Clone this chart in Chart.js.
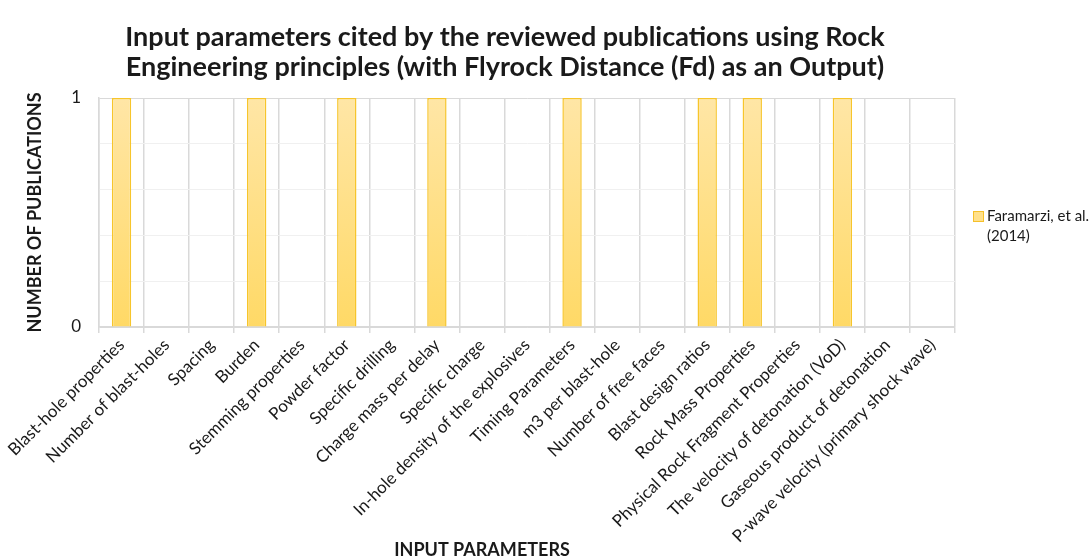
<!DOCTYPE html>
<html>
<head>
<meta charset="utf-8">
<script src="https://cdn.jsdelivr.net/npm/chart.js@4.4.1/dist/chart.umd.min.js"></script>
<style>
  html, body { margin: 0; padding: 0; background: #ffffff; }
  #wrap { width: 1092px; height: 560px; position: relative; }
</style>
</head>
<body>
<div id="wrap"><canvas id="c" width="1092" height="560"></canvas></div>
<script>
const titleLines = [
  "Input parameters cited by the reviewed publications using Rock",
  "Engineering principles (with Flyrock Distance (Fd) as an Output)"
];
const categories = [
  "Blast-hole properties",
  "Number of blast-holes",
  "Spacing",
  "Burden",
  "Stemming properties",
  "Powder factor",
  "Specific drilling",
  "Charge mass per delay",
  "Specific charge",
  "In-hole density of the explosives",
  "Timing Parameters",
  "m3 per blast-hole",
  "Number of free faces",
  "Blast design ratios",
  "Rock Mass Properties",
  "Physical Rock Fragment Properties",
  "The velocity of detonation (VoD)",
  "Gaseous product of detonation",
  "P-wave velocity (primary shock wave)"
];
const seriesLabel = ["Faramarzi, et al.", "(2014)"];
const seriesValues = [1, 0, 0, 1, 0, 1, 0, 1, 0, 0, 1, 0, 0, 1, 1, 0, 1, 0, 0];
const yTickLabels = [0, 1];
const yAxisTitle = "NUMBER OF PUBLICATIONS";
const xAxisTitle = "INPUT PARAMETERS";

const FONT = "Lato, 'Open Sans', sans-serif";
const textColor = "#1a1a1a";

function barGradient(ctx) {
  const chart = ctx.chart;
  const area = chart.chartArea;
  if (!area) return "#FFE08A";
  const g = chart.ctx.createLinearGradient(0, area.top, 0, area.bottom);
  g.addColorStop(0, "#FFE6A6");
  g.addColorStop(1, "#FFD966");
  return g;
}

const customDraw = {
  id: "customDraw",
  afterDraw(chart) {
    const ctx = chart.ctx;
    ctx.save();
    // Title
    ctx.fillStyle = textColor;
    ctx.textAlign = "center";
    ctx.textBaseline = "middle";
    ctx.font = "bold 27px " + FONT;
    ctx.fillText(titleLines[0], 505, 37);
    ctx.fillText(titleLines[1], 505, 67);
    // X axis title
    ctx.font = "bold 18px " + FONT;
    ctx.fillText(xAxisTitle, 482, 550);
    // Legend
    const ds = chart.data.datasets[0];
    ctx.fillStyle = "#FFE08A";
    ctx.fillRect(973, 211, 10, 10);
    ctx.strokeStyle = "#F5C02A";
    ctx.lineWidth = 1;
    ctx.strokeRect(973.5, 211.5, 10, 10);
    ctx.fillStyle = textColor;
    ctx.textAlign = "left";
    ctx.font = "15px " + FONT;
    const lines = Array.isArray(ds.label) ? ds.label : [ds.label];
    lines.forEach((t, i) => ctx.fillText(t, 987, 216 + i * 20));
    ctx.restore();
  }
};

new Chart(document.getElementById("c"), {
  type: "bar",
  data: {
    labels: categories,
    datasets: [{
      label: seriesLabel,
      data: seriesValues,
      backgroundColor: barGradient,
      borderColor: "#F7C52B",
      borderWidth: 1.5,
      categoryPercentage: 1.0,
      barPercentage: 0.43
    }]
  },
  options: {
    responsive: false,
    animation: false,
    devicePixelRatio: 1,
    layout: { padding: { top: 98, right: 137, left: 24, bottom: 0 } },
    plugins: {
      legend: { display: false },
      title: { display: false },
      tooltip: { enabled: false }
    },
    scales: {
      x: {
        offset: true,
        grid: {
          offset: true,
          color: "#d9d9d9",
          lineWidth: 1.5,
          drawTicks: true,
          tickLength: 6
        },
        border: { display: true, color: "#d9d9d9", width: 1.5 },
        ticks: {
          minRotation: 45,
          maxRotation: 45,
          autoSkip: false,
          padding: 2,
          color: textColor,
          font: { family: FONT, size: 17 }
        },
        title: { display: false },
        afterFit(s) { s.height = 560 - 327; }
      },
      y: {
        min: 0,
        max: 1,
        ticks: {
          stepSize: 0.1,
          padding: 18,
          color: textColor,
          font: { family: FONT, size: 17 },
          callback(v) {
            const r = Math.round(v * 10) / 10;
            return yTickLabels.includes(r) ? String(r) : "";
          }
        },
        grid: {
          drawTicks: false,
          lineWidth: 1,
          color(ctx) {
            const v = ctx.tick ? Math.round(ctx.tick.value * 10) / 10 : 0;
            return (v === 0 || v === 1) ? "#d9d9d9" : "#f0f0f0";
          }
        },
        border: { display: true, color: "#d9d9d9", width: 1.5 },
        title: {
          display: true,
          text: yAxisTitle,
          color: textColor,
          font: { family: FONT, size: 18, weight: "bold" },
          padding: { top: 0, bottom: 0 }
        },
        afterFit(s) { s.width = 99 - 24; }
      }
    }
  },
  plugins: [customDraw]
});
</script>
</body>
</html>
